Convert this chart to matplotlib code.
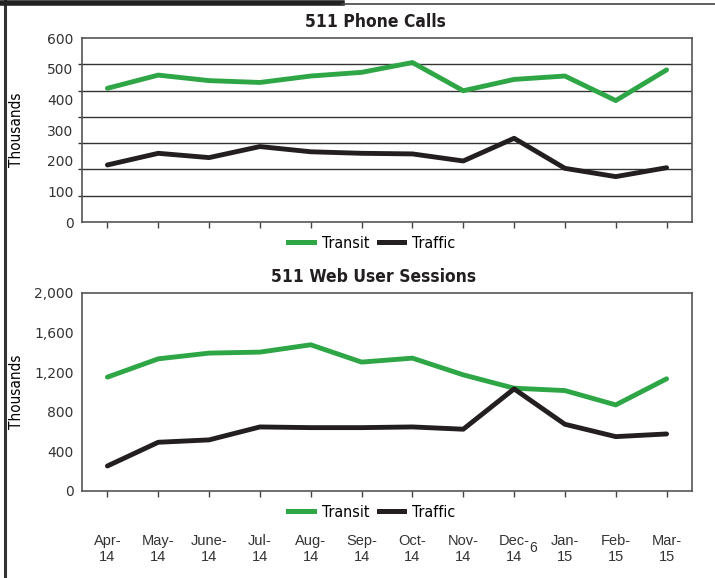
import matplotlib
matplotlib.use("Agg")
import matplotlib.pyplot as plt
from matplotlib.lines import Line2D
from matplotlib import font_manager
import numpy as np

plt.rcParams["font.family"] = ["DejaVu Sans"]

months = ["Apr-\n14", "May-\n14", "June-\n14", "Jul-\n14", "Aug-\n14", "Sep-\n14",
          "Oct-\n14", "Nov-\n14", "Dec-\n14", "Jan-\n15", "Feb-\n15", "Mar-\n15"]
footnote_at = 8   # Dec-14 carries footnote 6
footnote = "6"

# 511 phone calls (thousands)
calls_transit = [436, 479, 461, 455, 476, 488, 520, 428, 465, 476, 396, 496]
calls_traffic = [186, 224, 210, 246, 229, 224, 222, 199, 273, 175, 148, 177]

# 511 web user sessions (thousands)
web_transit = [1149, 1334, 1392, 1402, 1476, 1301, 1341, 1172, 1037, 1013, 868, 1132]
web_traffic = [250, 490, 514, 645, 638, 638, 645, 622, 1030, 672, 547, 574]

GREEN = "#2ea646"
BLACK = "#231f20"

# narrow face for titles / legend, like the condensed font of the original
names = {f.name for f in font_manager.fontManager.ttflist}
if "Liberation Sans Narrow" in names:
    narrow = dict(family="Liberation Sans Narrow")
else:
    narrow = dict(family="DejaVu Sans", stretch="condensed")

W, H = 715, 578
fig = plt.figure(figsize=(W / 100, H / 100), dpi=100)


def ax_at(left, top, right, bottom):
    return fig.add_axes([left / W, 1 - bottom / H, (right - left) / W, (bottom - top) / H])


def style(ax, ymax, major, grid):
    x = np.arange(len(months))
    ax.set_xlim(-0.5, len(months) - 0.5)
    ax.set_ylim(0, ymax)
    ax.set_xticks(x)
    ax.tick_params(axis="x", direction="out", length=4, width=1, color="#444444")
    ax.set_yticks(major)
    ax.set_yticks(grid, minor=True)
    ax.tick_params(axis="y", which="major", length=0, pad=6, labelsize=10, labelcolor="#333333")
    ax.tick_params(axis="y", which="minor", length=3, width=1, color="#333333")
    ax.grid(False)
    ax.grid(True, axis="y", which="minor", color="#333333", lw=1)
    ax.set_axisbelow(True)
    for s in ax.spines.values():
        s.set_color("#555555")
        s.set_linewidth(1.2)
    ax.set_ylabel("Thousands", fontsize=11, **narrow)
    ax.yaxis.set_label_coords(-0.095, 0.5)


def legend(ax, y):
    h = [Line2D([], [], color=GREEN, lw=3.6), Line2D([], [], color=BLACK, lw=3.6)]
    prop = font_manager.FontProperties(size=11.5, **narrow)
    ax.legend(h, ["Transit", "Traffic"], loc="center", bbox_to_anchor=(0.475, y),
              ncol=2, frameon=False, handlelength=1.6, handletextpad=0.5,
              columnspacing=0.6, prop=prop)


x = np.arange(len(months))

# top chart
ax1 = ax_at(82, 38, 692, 222)
ax1.plot(x, calls_transit, color=GREEN, lw=3.5, solid_capstyle="round", zorder=3)
ax1.plot(x, calls_traffic, color=BLACK, lw=3.5, solid_capstyle="round", zorder=3)
style(ax1, 600, np.arange(0, 601, 100), np.linspace(0, 600, 8))
ax1.set_xticklabels([])
legend(ax1, -0.115)

# bottom chart
ax2 = ax_at(82, 293, 692, 490.7)
ax2.plot(x, web_transit, color=GREEN, lw=3.5, solid_capstyle="round", zorder=3)
ax2.plot(x, web_traffic, color=BLACK, lw=3.5, solid_capstyle="round", zorder=3)
ticks2 = np.arange(0, 2001, 400)
style(ax2, 2000, ticks2, ticks2)
ax2.set_yticklabels([f"{v:,}" for v in ticks2])
ax2.set_xticklabels(months, fontsize=10.5, color="#333333", linespacing=1.2,
                    family="Liberation Sans")
ax2.tick_params(axis="x", pad=27)
ax2.annotate(footnote, xy=(footnote_at, 0), xycoords=("data", "axes fraction"),
             xytext=(14, -41), textcoords="offset points", ha="center", va="center",
             fontsize=10, color="#333333", family="Liberation Sans")
legend(ax2, -0.108)

fig.text(375 / W, 1 - 22 / H, "511 Phone Calls", ha="center", va="center",
         fontsize=12.5, fontweight="bold", color=BLACK, **narrow)
fig.text(374 / W, 1 - 277 / H, "511 Web User Sessions", ha="center", va="center",
         fontsize=12.5, fontweight="bold", color=BLACK, **narrow)

# page frame
fig.add_artist(Line2D([5 / W, 5 / W], [0, 1], color="#333333", lw=2.2, transform=fig.transFigure))
fig.add_artist(Line2D([0, 342 / W], [1 - 2.5 / H, 1 - 2.5 / H], color="#222222", lw=4,
                      transform=fig.transFigure))
fig.add_artist(Line2D([342 / W, 1], [1 - 4 / H, 1 - 4 / H], color="#444444", lw=1.2,
                      transform=fig.transFigure))

fig.savefig("out.png", dpi=100)
